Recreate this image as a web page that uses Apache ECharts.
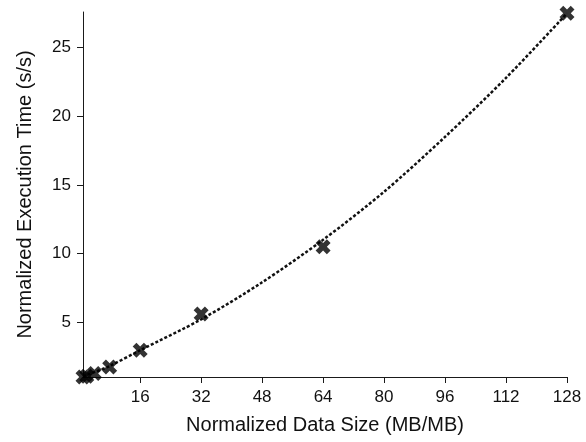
<!DOCTYPE html>
<html>
<head>
<meta charset="utf-8">
<script src="https://cdn.jsdelivr.net/npm/echarts@6/dist/echarts.min.js"></script>
<style>
  html, body { margin: 0; padding: 0; background: #fff; }
  #chart { width: 586px; height: 442px; }
</style>
</head>
<body>
<div id="chart"></div>
<script>
// Measured points: normalized data size vs normalized execution time
const sizes = [1, 2, 4, 8, 16, 32, 64, 128];
const times = [1.0, 1.05, 1.25, 1.72, 2.95, 5.6, 10.5, 27.5];

// Fitted trend curve, sampled along the x axis
const trendX = [1, 2, 4, 8, 16, 32, 48, 64, 80, 96, 112, 128];
const trendY = [1.05, 1.15, 1.35, 1.8, 2.95, 5.2, 7.9, 11.0, 14.5, 18.5, 22.8, 27.5];

// Tick labels
const xTicks = [16, 32, 48, 64, 80, 96, 112, 128];
const yTicks = [5, 10, 15, 20, 25];

const FONT = '"Liberation Sans", Arial, sans-serif';
const AXIS_COLOR = '#1a1a1a';

// Bold "X" marker
const crossPath = 'path://M0,5 L5,0 L10,5 L15,0 L20,5 L15,10 L20,15 L15,20 L10,15 L5,20 L0,15 L5,10 Z';

const chart = echarts.init(document.getElementById('chart'), null, { renderer: 'canvas' });

chart.setOption({
  animation: false,
  backgroundColor: '#fff',
  grid: { left: 83, right: 19, top: 12, bottom: 65, containLabel: false },
  xAxis: {
    type: 'value',
    min: 1,
    max: 128,
    name: 'Normalized Data Size (MB/MB)',
    nameLocation: 'middle',
    nameGap: 38,
    nameTextStyle: { fontFamily: FONT, fontSize: 20, color: '#111' },
    axisLine: { show: true, lineStyle: { color: AXIS_COLOR, width: 1 } },
    axisTick: { show: true, inside: false, length: 6, customValues: xTicks, lineStyle: { color: AXIS_COLOR } },
    axisLabel: { customValues: xTicks, fontFamily: FONT, fontSize: 17, color: '#111', margin: 12 },
    splitLine: { show: false }
  },
  yAxis: {
    type: 'value',
    min: 1,
    max: 27.6,
    name: 'Normalized Execution Time (s/s)',
    nameLocation: 'middle',
    nameGap: 48,
    nameRotate: 90,
    nameTextStyle: { fontFamily: FONT, fontSize: 20, color: '#111' },
    axisLine: { show: true, lineStyle: { color: AXIS_COLOR, width: 1 } },
    axisTick: { show: true, inside: false, length: 6, customValues: yTicks, lineStyle: { color: AXIS_COLOR } },
    axisLabel: { customValues: yTicks, fontFamily: FONT, fontSize: 17, color: '#111', margin: 12 },
    splitLine: { show: false }
  },
  series: [
    {
      name: 'trend',
      type: 'line',
      data: trendX.map((x, i) => [x, trendY[i]]),
      smooth: 0.3,
      showSymbol: false,
      lineStyle: { color: '#111', width: 2.5, type: [3, 2] },
      z: 2
    },
    {
      name: 'measured',
      type: 'scatter',
      data: sizes.map((x, i) => [x, times[i]]),
      symbol: crossPath,
      symbolSize: 15,
      itemStyle: { color: '#000' },
      z: 3
    }
  ]
});
</script>
</body>
</html>
